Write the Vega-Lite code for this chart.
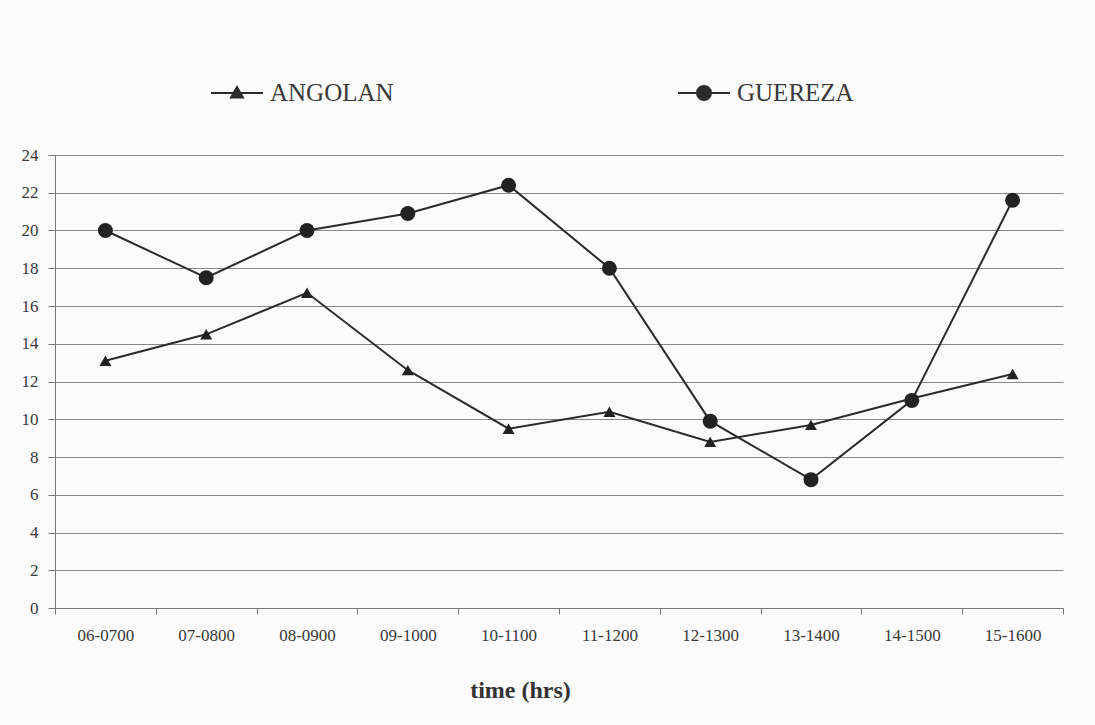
{
  "$schema": "https://vega.github.io/schema/vega-lite/v6.json",
  "width": 1008,
  "height": 453,
  "autosize": {"type": "none"},
  "padding": {"left": 55, "top": 155, "right": 32, "bottom": 117},
  "background": "#fbfbfb",
  "config": {
    "font": "Liberation Serif",
    "view": {"stroke": null}
  },
  "data": {
    "values": [
      {"time": "06-0700", "species": "ANGOLAN", "value": 13.1},
      {"time": "07-0800", "species": "ANGOLAN", "value": 14.5},
      {"time": "08-0900", "species": "ANGOLAN", "value": 16.7},
      {"time": "09-1000", "species": "ANGOLAN", "value": 12.6},
      {"time": "10-1100", "species": "ANGOLAN", "value": 9.5},
      {"time": "11-1200", "species": "ANGOLAN", "value": 10.4},
      {"time": "12-1300", "species": "ANGOLAN", "value": 8.8},
      {"time": "13-1400", "species": "ANGOLAN", "value": 9.7},
      {"time": "14-1500", "species": "ANGOLAN", "value": 11.1},
      {"time": "15-1600", "species": "ANGOLAN", "value": 12.4},
      {"time": "06-0700", "species": "GUEREZA", "value": 20.0},
      {"time": "07-0800", "species": "GUEREZA", "value": 17.5},
      {"time": "08-0900", "species": "GUEREZA", "value": 20.0},
      {"time": "09-1000", "species": "GUEREZA", "value": 20.9},
      {"time": "10-1100", "species": "GUEREZA", "value": 22.4},
      {"time": "11-1200", "species": "GUEREZA", "value": 18.0},
      {"time": "12-1300", "species": "GUEREZA", "value": 9.9},
      {"time": "13-1400", "species": "GUEREZA", "value": 6.8},
      {"time": "14-1500", "species": "GUEREZA", "value": 11.0},
      {"time": "15-1600", "species": "GUEREZA", "value": 21.6}
    ]
  },
  "encoding": {
    "x": {
      "field": "time",
      "type": "nominal",
      "sort": null,
      "bandPosition": 0.5,
      "scale": {"type": "band", "paddingInner": 0, "paddingOuter": 0},
      "axis": {
        "title": "time (hrs)",
        "titleFontSize": 24,
        "titleFontWeight": "bold",
        "titleColor": "#333",
        "titlePadding": 35,
        "titleX": 465,
        "titleAlign": "center",
        "labelAngle": 0,
        "labelFontSize": 17,
        "labelColor": "#3a3a3a",
        "labelPadding": 13,
        "tickBand": "extent",
        "tickSize": 6,
        "tickColor": "#777",
        "domainColor": "#777",
        "grid": false
      }
    },
    "y": {
      "field": "value",
      "type": "quantitative",
      "scale": {"domain": [0, 24], "nice": false},
      "axis": {
        "title": null,
        "values": [0, 2, 4, 6, 8, 10, 12, 14, 16, 18, 20, 22, 24],
        "grid": true,
        "gridColor": "#888",
        "gridOpacity": 1,
        "labelFontSize": 17,
        "labelColor": "#3a3a3a",
        "labelPadding": 10,
        "tickSize": 7,
        "tickColor": "#777",
        "domainColor": "#777"
      }
    }
  },
  "layer": [
    {
      "mark": {"type": "line", "strokeWidth": 2},
      "encoding": {
        "color": {
          "field": "species",
          "type": "nominal",
          "scale": {"domain": ["ANGOLAN", "GUEREZA"], "range": ["#2b2b2b", "#2b2b2b"]},
          "legend": {
            "orient": "none",
            "legendX": 155,
            "legendY": -89,
            "direction": "horizontal",
            "title": null,
            "symbolType": "M-1,0H1M-0.23,0.17L0,-0.23L0.23,0.17Z",
            "symbolSize": 2704,
            "symbolStrokeWidth": 2,
            "labelFontSize": 25,
            "labelColor": "#3a3a3a",
            "labelOffset": 6,
            "columnPadding": 280,
            "encode": {
              "symbols": {
                "update": {
                  "shape": {"signal": "datum.value === 'ANGOLAN' ? 'M-1,0H1M-0.23,0.17L0,-0.23L0.23,0.17Z' : 'M-1,0H1M-0.27,0A0.27,0.27,0,1,0,0.27,0A0.27,0.27,0,1,0,-0.27,0Z'"},
                  "fill": {"value": "#2b2b2b"},
                  "stroke": {"value": "#2b2b2b"},
                  "strokeWidth": {"value": 2}
                }
              }
            }
          }
        }
      }
    },
    {
      "transform": [{"filter": "datum.species === 'ANGOLAN'"}],
      "mark": {"type": "point", "shape": "triangle-up", "size": 144, "filled": true, "opacity": 1, "color": "#222"}
    },
    {
      "transform": [{"filter": "datum.species === 'GUEREZA'"}],
      "mark": {"type": "point", "shape": "circle", "size": 225, "filled": true, "opacity": 1, "color": "#222"}
    }
  ]
}
